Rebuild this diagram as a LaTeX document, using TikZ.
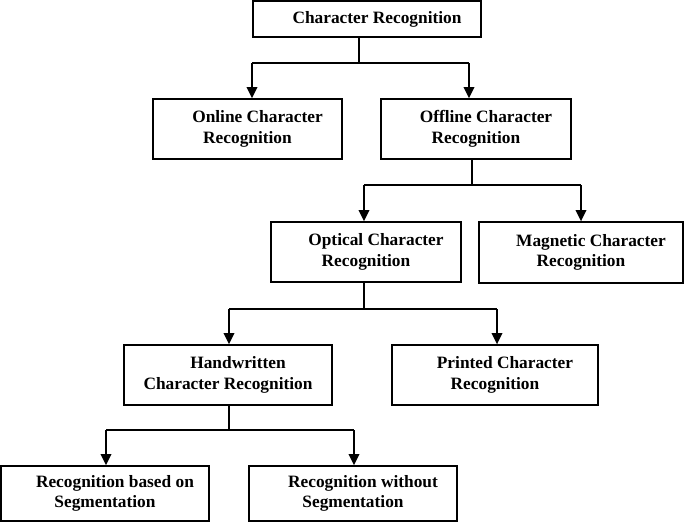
\documentclass[tikz,border=0pt]{standalone}
\usepackage{fontspec}
\setmainfont{Liberation Serif}
\usetikzlibrary{arrows.meta}
% #1 name, #2-#5 box corners (px), #6 text
\newcommand{\crbox}[6]{%
  \node[box, minimum width={(#4-#2)*0.75pt}, minimum height={(#5-#3)*0.75pt}] (#1) at ({(#2+#4)/2},{(#3+#5)/2}) {};
  \node[lbl] (#1t) at (#1.center) {#6};}
\begin{document}
\begin{tikzpicture}[x=0.75pt,y=-0.75pt,
  box/.style={draw=black, line width=1pt, inner sep=0pt, fill=white},
  lbl/.style={font=\bfseries\fontsize{13}{15.5}\selectfont, align=center, inner sep=0pt},
  stem/.style={draw=black, line width=0.8pt},
  hbar/.style={draw=black, line width=0.8pt},
  arr/.style={draw=black, line width=1.4pt, -{Triangle[width=8pt,length=8.5pt]}}]
\useasboundingbox (0,0) rectangle (685,525);
% boxes
\crbox{cr}{253}{1}{481}{37}{\hspace*{15pt}Character Recognition}
\crbox{on}{153}{99}{342}{159}{\hspace*{15pt}Online Character\\Recognition}
\crbox{off}{381}{99}{571}{159}{\hspace*{15pt}Offline Character\\Recognition}
\crbox{ocr}{271}{222}{461}{282}{\hspace*{15pt}Optical Character\\Recognition}
\crbox{mcr}{479}{222}{683}{283}{\hspace*{15pt}Magnetic Character\\Recognition}
\crbox{hw}{124}{345}{332}{405}{\hspace*{15pt}Handwritten\\Character Recognition}
\crbox{pr}{392}{345}{598}{405}{\hspace*{15pt}Printed Character\\Recognition}
\crbox{seg}{1}{466}{209}{521}{\hspace*{15pt}Recognition based on\\Segmentation}
\crbox{noseg}{249}{466}{457}{521}{\hspace*{15pt}Recognition without\\Segmentation}
% level 1
\coordinate (j1) at (359,63);
\coordinate (l1) at (252,63);
\coordinate (r1) at (469,63);
\draw[stem] (cr.south -| j1) -- (j1);
\draw[hbar] (l1) -- (r1);
\draw[arr] (l1) -- (l1 |- on.north);
\draw[arr] (r1) -- (r1 |- off.north);
% level 2
\coordinate (j2) at (472,185);
\coordinate (l2) at (364,185);
\coordinate (r2) at (581,185);
\draw[stem] (off.south -| j2) -- (j2);
\draw[hbar] (l2) -- (r2);
\draw[arr] (l2) -- (l2 |- ocr.north);
\draw[arr] (r2) -- (r2 |- mcr.north);
% level 3
\coordinate (j3) at (364,309);
\coordinate (l3) at (229,309);
\coordinate (r3) at (497,309);
\draw[stem] (ocr.south -| j3) -- (j3);
\draw[hbar] (l3) -- (r3);
\draw[arr] (l3) -- (l3 |- hw.north);
\draw[arr] (r3) -- (r3 |- pr.north);
% level 4
\coordinate (j4) at (229,430);
\coordinate (l4) at (106,430);
\coordinate (r4) at (354,430);
\draw[stem] (hw.south -| j4) -- (j4);
\draw[hbar] (l4) -- (r4);
\draw[arr] (l4) -- (l4 |- seg.north);
\draw[arr] (r4) -- (r4 |- noseg.north);
\end{tikzpicture}
\end{document}
